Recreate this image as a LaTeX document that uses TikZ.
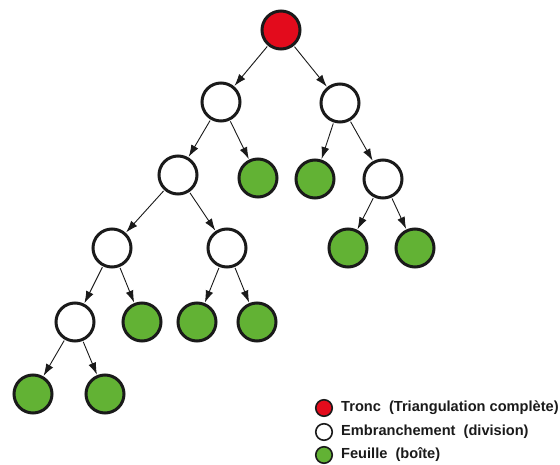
\documentclass[tikz,border=0pt]{standalone}
\usepackage{fontspec}
\setmainfont{Liberation Sans}
\usetikzlibrary{arrows.meta}
\definecolor{rouge}{HTML}{E30B1C}
\definecolor{vert}{HTML}{62B234}
\definecolor{trait}{HTML}{1A1A1A}
\begin{document}
\begin{tikzpicture}[x=1pt,y=-1pt,
  nd/.style={circle,draw=trait,line width=3pt,minimum size=38pt,inner sep=0pt},
  tronc/.style={nd,fill=rouge},
  branche/.style={nd,fill=white},
  feuille/.style={nd,fill=vert},
  lg/.style={circle,draw=trait,line width=1.6pt,minimum size=16.5pt,inner sep=0pt},
  lt/.style={anchor=west,font=\fontsize{14.6}{17}\selectfont\bfseries,text=trait,inner sep=0pt},
  ar/.style={-{Latex[length=12pt,width=8pt]},draw=trait,line width=0.9pt,shorten <=1pt,shorten >=0.5pt}]
\useasboundingbox (0,0) rectangle (560,465);
\node[tronc] (r) at (281,30) {};
\node[branche] (a) at (221,102) {};
\node[branche] (b) at (340,103) {};
\node[branche] (c) at (178,175) {};
\node[feuille] (d) at (258,178) {};
\node[feuille] (e) at (315,179) {};
\node[branche] (f) at (383,179) {};
\node[branche] (g) at (112,248) {};
\node[branche] (h) at (227,248) {};
\node[feuille] (i) at (348,248) {};
\node[feuille] (j) at (415,248) {};
\node[branche] (k) at (75,322) {};
\node[feuille] (l) at (142,322) {};
\node[feuille] (m) at (197,322) {};
\node[feuille] (n) at (257,322) {};
\node[feuille] (o) at (33,394) {};
\node[feuille] (p) at (105,394) {};
\foreach \s/\t in {r/a,r/b,a/c,a/d,b/e,b/f,c/g,c/h,f/i,f/j,g/k,g/l,h/m,h/n,k/o,k/p}
  \draw[ar] (\s) -- (\t);
\node[lg,fill=rouge] (l1) at (324,408) {};
\node[lg,fill=white] (l2) at (324,432) {};
\node[lg,fill=vert] (l3) at (324,455) {};
\node[lt] (t1) at (341,408) {Tronc\ \ (Triangulation complète)};
\node[lt] (t2) at (341,432) {Embranchement\ \ (division)};
\node[lt] (t3) at (341,455) {Feuille\ \ (boîte)};
\end{tikzpicture}
\end{document}
